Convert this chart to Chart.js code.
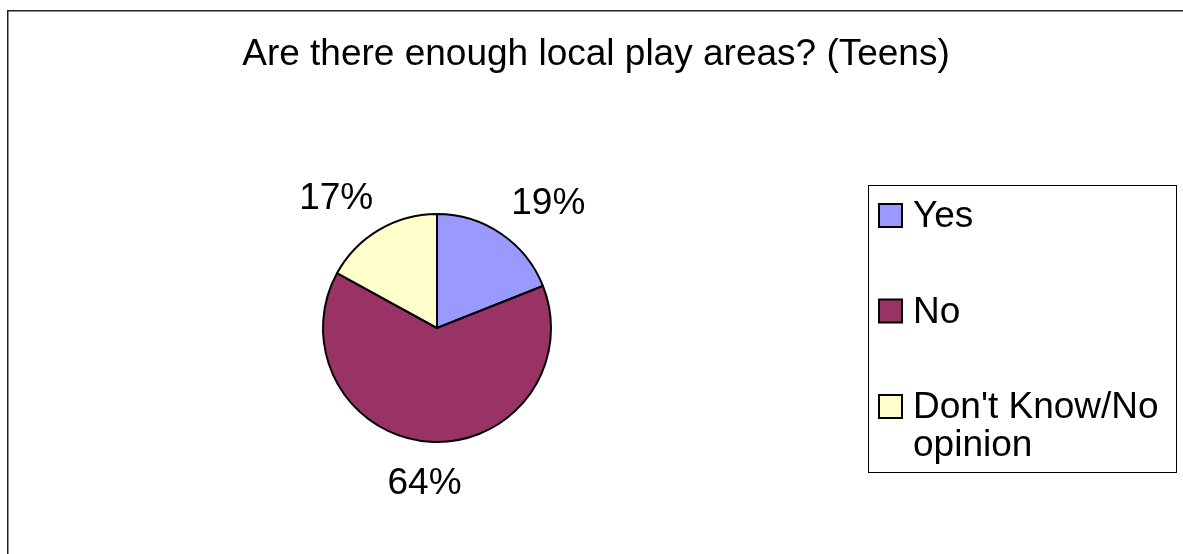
<!DOCTYPE html>
<html>
<head>
<meta charset="utf-8">
<title>Play areas (Teens)</title>
<script src="https://cdn.jsdelivr.net/npm/chart.js@4.4.1/dist/chart.umd.min.js"></script>
<style>
  html, body { margin: 0; padding: 0; background: #fff; }
  #wrap { width: 1183px; height: 554px; position: relative; }
</style>
</head>
<body>
<div id="wrap"><canvas id="pie" width="1183" height="554"></canvas></div>
<script>
const chartTitle = 'Are there enough local play areas? (Teens)';
const categories = ['Yes', 'No', "Don't Know/No opinion"];
const values = [19, 64, 17];
const colors = ['#9999FF', '#993366', '#FFFFCC'];

const FONT = '"Liberation Sans", Arial, Helvetica, sans-serif';
const FONT_SIZE = 37;

// white background plus the outer frame of the chart object
const framePlugin = {
  id: 'frame',
  beforeDraw(chart) {
    const ctx = chart.ctx;
    ctx.save();
    ctx.fillStyle = '#fff';
    ctx.fillRect(0, 0, chart.width, chart.height);
    ctx.strokeStyle = '#222';
    ctx.lineWidth = 1.5;
    ctx.strokeRect(7.75, 10.75, chart.width + 20, chart.height + 20);
    ctx.restore();
  }
};

const titlePlugin = {
  id: 'xlTitle',
  afterDraw(chart) {
    const ctx = chart.ctx;
    ctx.save();
    ctx.font = FONT_SIZE + 'px ' + FONT;
    ctx.fillStyle = '#000';
    ctx.textAlign = 'center';
    ctx.textBaseline = 'alphabetic';
    ctx.fillText(chartTitle, 596, 65);
    ctx.restore();
  }
};

// percentage labels placed outside each slice
const pctLabels = {
  id: 'pctLabels',
  afterDatasetsDraw(chart) {
    const ctx = chart.ctx;
    const meta = chart.getDatasetMeta(0);
    const data = chart.data.datasets[0].data;
    const total = data.reduce((a, b) => a + b, 0);
    ctx.save();
    ctx.font = FONT_SIZE + 'px ' + FONT;
    ctx.fillStyle = '#000';
    ctx.textAlign = 'center';
    ctx.textBaseline = 'alphabetic';
    meta.data.forEach((arc, i) => {
      const p = arc.getProps(['x', 'y', 'startAngle', 'endAngle', 'outerRadius'], true);
      const mid = (p.startAngle + p.endAngle) / 2;
      const txt = Math.round(data[i] / total * 100) + '%';
      const w = ctx.measureText(txt).width;
      const gap = 26;
      const halfW = w / 2 + 21;
      const halfH = 13;
      const cx = p.x + (p.outerRadius + gap + halfW) * Math.cos(mid);
      const cy = p.y + (p.outerRadius + gap + halfH) * Math.sin(mid);
      ctx.fillText(txt, cx, cy + halfH);
    });
    ctx.restore();
  }
};

// boxed legend on the right, long labels wrap onto a second line
const boxLegend = {
  id: 'boxLegend',
  afterDraw(chart) {
    const ctx = chart.ctx;
    const box = { x: 868.5, y: 185.5, w: 308, h: 287 };
    ctx.save();
    ctx.strokeStyle = '#000';
    ctx.lineWidth = 1;
    ctx.strokeRect(box.x, box.y, box.w, box.h);

    ctx.font = FONT_SIZE + 'px ' + FONT;
    ctx.textAlign = 'left';
    ctx.textBaseline = 'alphabetic';
    const textX = 913;
    const maxW = box.x + box.w - textX - 4;
    const lineH = 38;
    let baseline = 227;
    chart.data.labels.forEach((label, i) => {
      const sw = 23;
      ctx.fillStyle = chart.data.datasets[0].backgroundColor[i];
      ctx.fillRect(879, baseline - sw, sw, sw);
      ctx.lineWidth = 2;
      ctx.strokeStyle = '#000';
      ctx.strokeRect(879, baseline - sw, sw, sw);

      // word wrap
      const words = label.split(' ');
      const lines = [];
      let cur = '';
      words.forEach(wd => {
        const test = cur ? cur + ' ' + wd : wd;
        if (cur && ctx.measureText(test).width > maxW) {
          lines.push(cur);
          cur = wd;
        } else {
          cur = test;
        }
      });
      if (cur) lines.push(cur);
      ctx.fillStyle = '#000';
      lines.forEach((ln, k) => ctx.fillText(ln, textX, baseline + k * lineH));
      baseline += 95.5;
    });
    ctx.restore();
  }
};

new Chart(document.getElementById('pie').getContext('2d'), {
  type: 'pie',
  data: {
    labels: categories,
    datasets: [{
      data: values,
      backgroundColor: colors,
      borderColor: '#000',
      borderWidth: 2,
      radius: 114
    }]
  },
  options: {
    responsive: false,
    animation: false,
    devicePixelRatio: 1,
    layout: { padding: { left: 200, right: 509, top: 150, bottom: 48 } },
    plugins: {
      legend: { display: false },
      tooltip: { enabled: false },
      title: { display: false }
    }
  },
  plugins: [framePlugin, pctLabels, titlePlugin, boxLegend]
});
</script>
</body>
</html>
